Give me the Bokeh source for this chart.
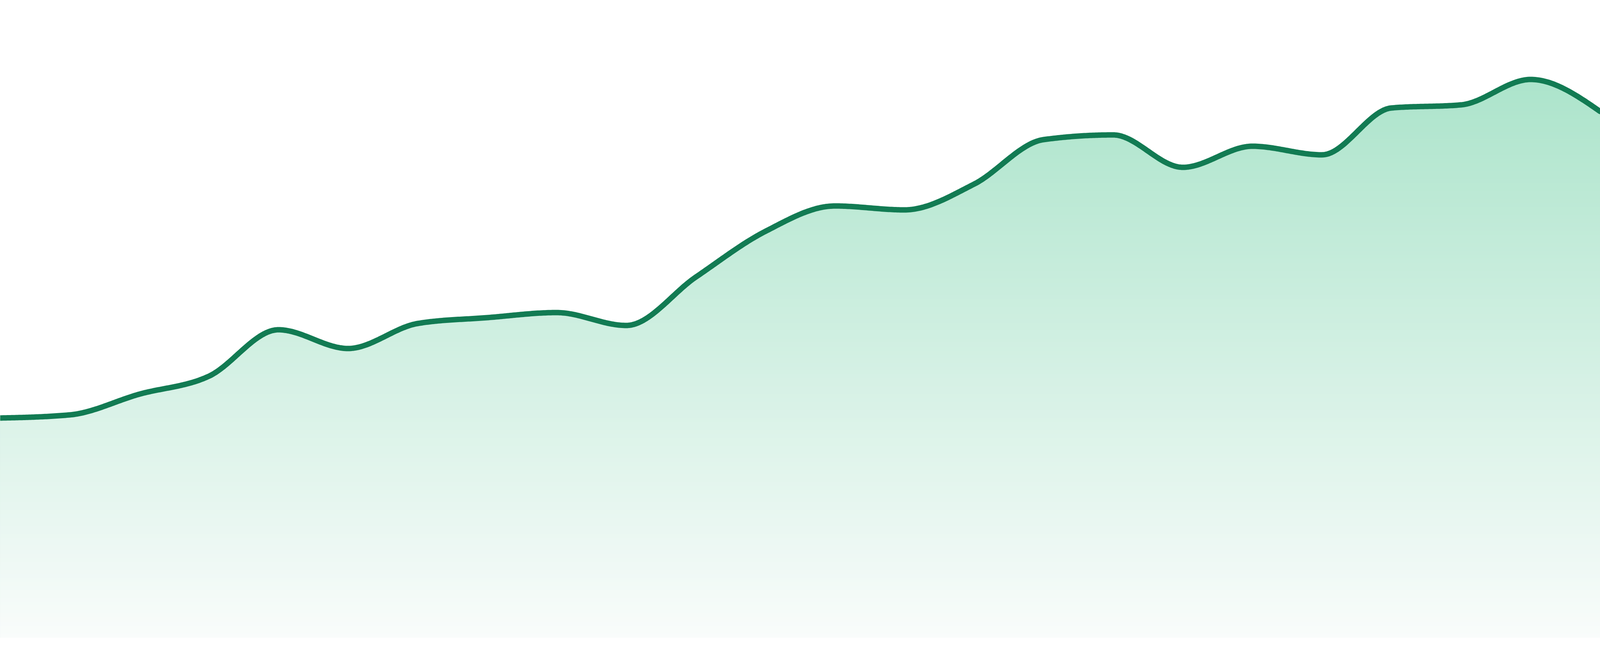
import numpy as np
from bokeh.plotting import figure
from bokeh.models import Range1d
from bokeh.embed import file_html
from bokeh.resources import INLINE

# ---- data ----
x_index = list(range(24))
values = [56.2, 57.0, 62.3, 66.9, 78.8, 74.0, 80.4, 81.9, 83.2, 79.9, 92.3, 104.0,
          110.5, 109.5, 116.1, 127.5, 128.7, 120.4, 125.8, 123.6, 135.6, 136.4, 142.9, 134.7]

# ---- style ----
LINE_COLOR = "#127b53"
FILL_TOP = (172, 228, 203)
FILL_BOTTOM = (249, 252, 251)
W, H = 4096, 1680      # the page that is photographed is 4096 px wide


def sign(v):
    return -1.0 if v < 0 else 1.0


def slope3(x0, x1, x2, y0, y1, y2):
    h0 = x1 - x0
    h1 = x2 - x1
    s0 = (y1 - y0) / h0
    s1 = (y2 - y1) / h1
    p = (s0 * h1 + s1 * h0) / (h0 + h1)
    r = (sign(s0) + sign(s1)) * min(abs(s0), abs(s1), 0.5 * abs(p))
    return r if np.isfinite(r) else 0.0


def slope2(x0, x1, y0, y1, t):
    h = x1 - x0
    return (3 * (y1 - y0) / h - t) / 2 if h else t


def monotone_path(xs, ys, n=48):
    m = len(xs)
    t = [0.0] * m
    for i in range(1, m - 1):
        t[i] = slope3(xs[i - 1], xs[i], xs[i + 1], ys[i - 1], ys[i], ys[i + 1])
    t[0] = slope2(xs[0], xs[1], ys[0], ys[1], t[1])
    t[-1] = slope2(xs[-2], xs[-1], ys[-2], ys[-1], t[-2])
    px, py = [], []
    for i in range(m - 1):
        x0, x1 = xs[i], xs[i + 1]
        y0, y1 = ys[i], ys[i + 1]
        dx = (x1 - x0) / 3
        c1x, c1y = x0 + dx, y0 + dx * t[i]
        c2x, c2y = x1 - dx, y1 - dx * t[i + 1]
        u = np.linspace(0, 1, n, endpoint=(i == m - 2))
        a = (1 - u) ** 3
        b = 3 * (1 - u) ** 2 * u
        c = 3 * (1 - u) * u ** 2
        d = u ** 3
        px.extend(a * x0 + b * c1x + c * c2x + d * x1)
        py.extend(a * y0 + b * c1y + c * c2y + d * y1)
    return np.array(px), np.array(py)


cx, cy = monotone_path([float(v) for v in x_index], values)

# the frame spans the whole page; baseline 48 px above the bottom, 10 px per unit
p = figure(width=W, height=H, output_backend="svg", toolbar_location=None,
           x_range=Range1d(0.0, 23.0), y_range=Range1d(-4.8, 163.2),
           min_border=0, min_border_left=0, min_border_right=0,
           min_border_top=0, min_border_bottom=0)
p.axis.visible = False
p.xgrid.visible = False
p.ygrid.visible = False
p.outline_line_color = None
p.background_fill_color = "white"
p.border_fill_color = "white"

# vertical gradient fill built from stacked areas
vmax = float(np.max(cy))
N = 140
for k in reversed(range(N)):
    hi = vmax * (k + 1) / N
    f = (k + 0.5) / N
    col = tuple(int(round(FILL_BOTTOM[j] + (FILL_TOP[j] - FILL_BOTTOM[j]) * f)) for j in range(3))
    colhex = "#%02x%02x%02x" % col
    p.varea(x=cx, y1=np.zeros_like(cy), y2=np.minimum(cy, hi), fill_color=colhex, fill_alpha=1.0)

p.line(cx, cy, line_color=LINE_COLOR, line_width=14, line_join="round", line_cap="round")

open("out.html", "w").write(file_html(p, INLINE))
